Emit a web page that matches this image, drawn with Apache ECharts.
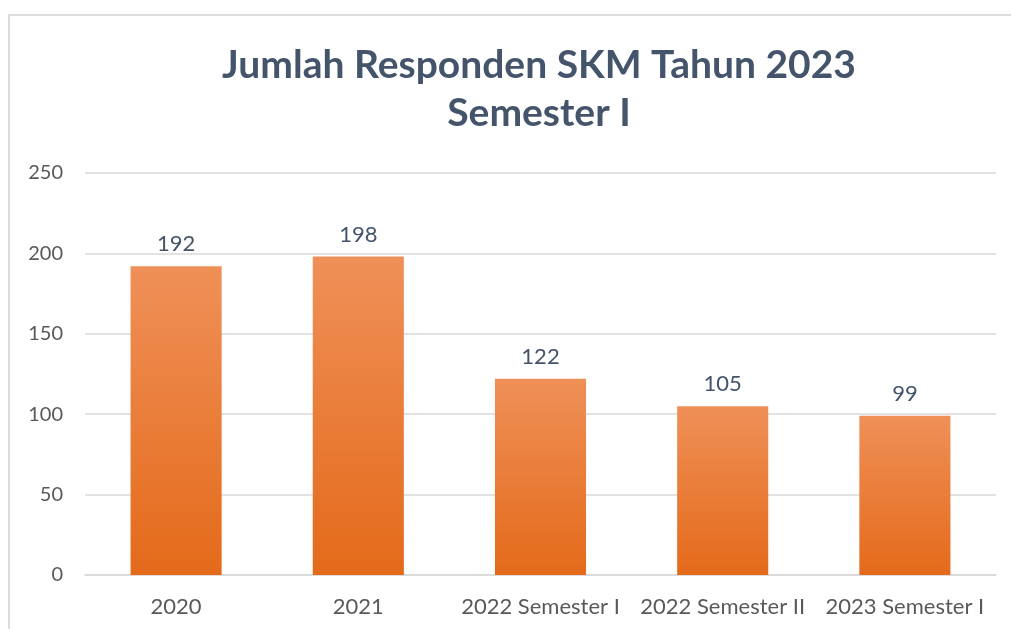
<!DOCTYPE html>
<html><head><meta charset="utf-8">
<script src="https://cdn.jsdelivr.net/npm/echarts@6/dist/echarts.min.js"></script>
<style>html,body{margin:0;padding:0;background:#fff}#c{width:1011px;height:629px}</style>
</head><body><div id="c"></div>
<script>
const categories = ['2020', '2021', '2022 Semester I', '2022 Semester II', '2023 Semester I'];
const values = [192, 198, 122, 105, 99];
const yTicks = [0, 50, 100, 150, 200, 250];
const titleText = 'Jumlah Responden SKM Tahun 2023\nSemester I';

const chart = echarts.init(document.getElementById('c'));
chart.setOption({
  animation: false,
  backgroundColor: '#fff',
  graphic: [{
    type: 'rect', shape: { x: 9, y: 15, width: 1010, height: 620 },
    style: { fill: 'none', stroke: '#DCDCE0', lineWidth: 2 }, silent: true
  }],
  title: {
    text: titleText, left: 534, top: 36, textAlign: 'center',
    textStyle: { fontFamily: 'Lato', fontWeight: 'bold', fontSize: 39, color: '#44546A', lineHeight: 48 }
  },
  grid: { left: 85, right: 15, top: 173, bottom: 54, containLabel: false },
  xAxis: {
    type: 'category', data: categories,
    axisLine: { show: true, lineStyle: { color: '#D9D9D9', width: 1.5 } },
    axisTick: { show: false },
    axisLabel: { interval: 0, hideOverlap: false, fontFamily: 'Lato', fontSize: 22, color: '#595959', margin: 21 }
  },
  yAxis: {
    type: 'value', min: yTicks[0], max: yTicks[yTicks.length - 1], interval: 50,
    axisLine: { show: false }, axisTick: { show: false },
    splitLine: { lineStyle: { color: '#D9D9D9', width: 1.5 } },
    axisLabel: { fontFamily: 'Lato', fontSize: 20, color: '#595959', margin: 22 }
  },
  series: [{
    type: 'bar', data: values, barWidth: '50%',
    itemStyle: {
      color: new echarts.graphic.LinearGradient(0, 0, 0, 1, [
        { offset: 0, color: '#EF9058' },
        { offset: 1, color: '#E46A1A' }
      ])
    },
    label: { show: true, position: 'top', distance: 11, fontFamily: 'Lato', fontSize: 22, color: '#44546A' }
  }]
});
</script></body></html>
